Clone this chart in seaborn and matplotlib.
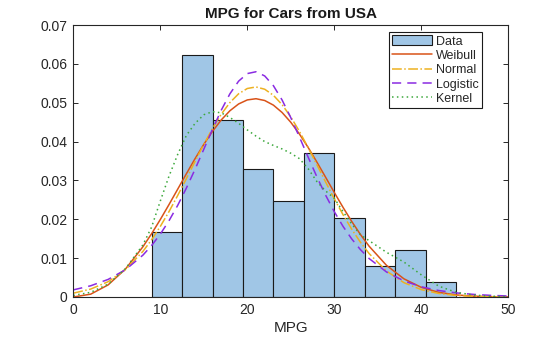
import matplotlib
matplotlib.use("Agg")
import matplotlib.pyplot as plt
from matplotlib.patches import Patch
from matplotlib.lines import Line2D
import numpy as np
import pandas as pd
import seaborn as sns

# Histogram of MPG (pdf-normalised bar heights)
bin_edges = [9.0, 12.5, 16.0, 19.5, 23.0, 26.5, 30.0, 33.5, 37.0, 40.5, 44.0]
bin_density = [0.0166, 0.0622, 0.0455, 0.0330, 0.0246, 0.0371, 0.0204, 0.0080, 0.0122, 0.0038]

# Fitted density curves, sampled on a common MPG grid (finer around the peak)
mpg_grid = [0, 2, 4, 6, 8,
            9, 10, 11, 12, 13, 14, 15, 16, 17, 18, 19, 20, 21,
            22, 23, 24, 25, 26, 27, 28, 29, 30, 31, 32, 33, 34,
            36, 38, 40, 42, 44, 46, 48, 50]
weibull_pdf = [0.0, 0.00073, 0.00311, 0.00721, 0.01292,
               0.01629, 0.01994, 0.02379, 0.02775, 0.03173, 0.03562, 0.03929, 0.04264,
               0.04556, 0.04793, 0.04968, 0.05072, 0.05103,
               0.05057, 0.04938, 0.04748, 0.04496, 0.04191, 0.03846, 0.03471, 0.03082,
               0.02689, 0.02308, 0.01945, 0.01610, 0.01307,
               0.00814, 0.00468, 0.00248, 0.00120, 0.00053, 0.00021, 0.00008, 0.00003]
normal_pdf = [0.00098, 0.00204, 0.00393, 0.00704, 0.01173,
              0.01473, 0.01816, 0.02198, 0.02613, 0.03048, 0.03492, 0.03927, 0.04337,
              0.04702, 0.05004, 0.05230, 0.05366, 0.05406,
              0.05347, 0.05191, 0.04950, 0.04633, 0.04258, 0.03842, 0.03403, 0.02960,
              0.02528, 0.02119, 0.01745, 0.01410, 0.01118,
              0.00667, 0.00369, 0.00190, 0.00091, 0.00040, 0.00017, 0.00006, 0.00002]
logistic_pdf = [0.00183, 0.00289, 0.00452, 0.00702, 0.01077,
                0.01325, 0.01618, 0.01963, 0.02359, 0.02805, 0.03290, 0.03803, 0.04317,
                0.04805, 0.05229, 0.05555, 0.05750, 0.05797,
                0.05689, 0.05438, 0.05069, 0.04615, 0.04112, 0.03596, 0.03091, 0.02621,
                0.02195, 0.01819, 0.01495, 0.01220, 0.00990,
                0.00644, 0.00414, 0.00263, 0.00167, 0.00106, 0.00067, 0.00042, 0.00026]
kernel_pdf = [0.0004, 0.0012, 0.0033, 0.0073, 0.0134,
              0.0180, 0.0247, 0.0311, 0.0367, 0.0416, 0.0447, 0.0469, 0.0477,
              0.0474, 0.0462, 0.0447, 0.0430, 0.0414,
              0.0400, 0.0390, 0.0381, 0.0370, 0.0356, 0.0330, 0.0297, 0.0273,
              0.0254, 0.0220, 0.0188, 0.0160, 0.0145,
              0.0115, 0.0090, 0.0057, 0.0028, 0.0012, 0.0005, 0.0002, 0.0001]

series_names = ["Weibull", "Normal", "Logistic", "Kernel"]
series_colors = ["#D95319", "#EDB120", "#8A2BE2", "#3CA83C"]
series_styles = ["-", "-.", (0, (6, 4)), (0, (1, 2.2))]

x_ticks = [0, 10, 20, 30, 40, 50]
y_ticks = [0, 0.01, 0.02, 0.03, 0.04, 0.05, 0.06, 0.07]
y_tick_labels = ["0", "0.01", "0.02", "0.03", "0.04", "0.05", "0.06", "0.07"]

sns.set_theme(style="white")
plt.rcParams["font.family"] = ["Liberation Sans", "DejaVu Sans"]

fig = plt.figure(figsize=(5.6, 3.37), dpi=100)
ax = fig.add_axes([0.1309, 0.1187, 0.7768, 0.8071])

bar_color = "#A0C6E6"
edges = np.array(bin_edges)
centers = (edges[:-1] + edges[1:]) / 2
sns.histplot(x=centers, weights=bin_density, bins=bin_edges, stat="count",
             color=bar_color, alpha=1.0, edgecolor="#1a1a1a", linewidth=0.8, ax=ax)

curves = pd.DataFrame({"MPG": mpg_grid, "Weibull": weibull_pdf, "Normal": normal_pdf,
                       "Logistic": logistic_pdf, "Kernel": kernel_pdf})
for name, col, ls in zip(series_names, series_colors, series_styles):
    sns.lineplot(data=curves, x="MPG", y=name, color=col, linestyle=ls,
                 linewidth=1.1, ax=ax, zorder=3)

ax.set_xlim(0, 50)
ax.set_ylim(0, 0.07)
ax.set_xticks(x_ticks)
ax.set_xticklabels([str(t) for t in x_ticks])
ax.set_yticks(y_ticks)
ax.set_yticklabels(y_tick_labels)
ax.tick_params(direction="in", length=3.5, width=0.7, colors="#262626",
               labelsize=10, top=True, right=True, bottom=True, left=True,
               labelcolor="#262626", pad=4)
for sp in ax.spines.values():
    sp.set_visible(True)
    sp.set_color("#262626")
    sp.set_linewidth(0.8)
    sp.set_zorder(5)

ax.set_xlabel("MPG", fontsize=11, color="#262626", labelpad=3)
ax.set_ylabel("")
ax.set_title("MPG for Cars from USA", fontsize=11, fontweight="bold", color="#1a1a1a", pad=5)

handles = [Patch(facecolor=bar_color, edgecolor="#1a1a1a", linewidth=0.8)]
for col, ls in zip(series_colors, series_styles):
    handles.append(Line2D([], [], color=col, linestyle=ls, linewidth=1.1))
leg = ax.legend(handles, ["Data"] + series_names, loc="upper right",
                bbox_to_anchor=(0.9388, 0.9732), borderaxespad=0, fontsize=9,
                frameon=True, fancybox=False, edgecolor="#1a1a1a", framealpha=1,
                handlelength=3.2, handleheight=0.8, handletextpad=0.3,
                labelspacing=0.18, borderpad=0.25)
leg.get_frame().set_linewidth(0.8)

fig.savefig("out.png", dpi=100)
